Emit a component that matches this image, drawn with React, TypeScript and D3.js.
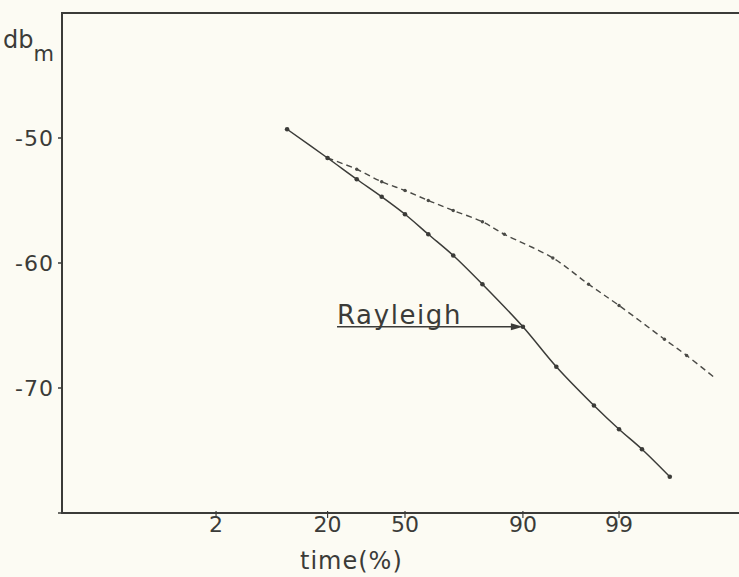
import * as d3 from "d3";
import React, { useEffect, useRef } from "react";

// time percentages (x) and levels in dBm (y)
const solidTime = [10, 20, 30, 40, 50, 60, 70, 80, 90, 95, 98, 99, 99.5, 99.8];
const solidLevel = [-49.3, -51.6, -53.3, -54.7, -56.1, -57.7, -59.4, -61.7, -65.1, -68.3, -71.4, -73.3, -74.9, -77.1];

const dashedTime = [20, 30, 40, 50, 60, 70, 80, 86, 94.6, 97.7, 99, 99.76, 99.89, 99.96];
const dashedLevel = [-51.6, -52.5, -53.5, -54.2, -55.0, -55.8, -56.7, -57.7, -59.6, -61.7, -63.4, -66.1, -67.4, -69.1];

const xTicks = [2, 20, 50, 90, 99];
const yTicks = [-50, -60, -70, -80];
const yTickLabels = ["-50", "-60", "-70", ""];

const rayleighArrow = { label: "Rayleigh", from: 23, to: 90, level: -65.1 };

const INK = "#3b3b38";
const PAPER = "#fcfbf3";
const FONT = "'DejaVu Sans', sans-serif";

// inverse normal CDF (Acklam), for the probability axis
const probit = (p: number) => {
	const a = [-39.69683028665376, 220.9460984245205, -275.9285104469687, 138.357751867269, -30.66479806614716, 2.506628277459239];
	const b = [-54.47609879822406, 161.5858368580409, -155.6989798598866, 66.80131188771972, -13.28068155288572];
	const c = [-0.007784894002430293, -0.3223964580411365, -2.400758277161838, -2.549732539343734, 4.374664141464968, 2.938163982698783];
	const d = [0.007784695709041462, 0.3224671290700398, 2.445134137142996, 3.754408661907416];
	const pl = 0.02425;
	if (p < pl) {
		const q = Math.sqrt(-2 * Math.log(p));
		return (((((c[0] * q + c[1]) * q + c[2]) * q + c[3]) * q + c[4]) * q + c[5]) / ((((d[0] * q + d[1]) * q + d[2]) * q + d[3]) * q + 1);
	}
	if (p > 1 - pl) {
		const q = Math.sqrt(-2 * Math.log(1 - p));
		return -(((((c[0] * q + c[1]) * q + c[2]) * q + c[3]) * q + c[4]) * q + c[5]) / ((((d[0] * q + d[1]) * q + d[2]) * q + d[3]) * q + 1);
	}
	const q = p - 0.5;
	const r = q * q;
	return ((((((a[0] * r + a[1]) * r + a[2]) * r + a[3]) * r + a[4]) * r + a[5]) * q) / (((((b[0] * r + b[1]) * r + b[2]) * r + b[3]) * r + b[4]) * r + 1);
};

const Chart = () => {
	const svgRef = useRef<SVGSVGElement>(null);

	useEffect(() => {
		if (!svgRef.current) return;
		const svg = d3.select(svgRef.current);
		svg.selectAll("*").remove();

		const width = 739;
		const height = 577;
		const left = 62;
		const top = 13;
		const bottom = 513;

		const z = d3.scaleLinear().domain([0, 1]).range([405, 497]);
		const x = (t: number) => z(probit(t / 100));
		const y = d3.scaleLinear().domain([-80, -40]).range([bottom, top]);

		svg.append("rect").attr("width", width).attr("height", height).attr("fill", PAPER);

		// frame (right side runs off the page)
		svg
			.append("path")
			.attr("d", `M${width},${top}H${left}V${bottom}H${width}`)
			.attr("fill", "none")
			.attr("stroke", INK)
			.attr("stroke-width", 2);

		// y ticks
		const yg = svg.append("g");
		yg.selectAll("line")
			.data(yTicks)
			.enter()
			.append("line")
			.attr("x1", left - 4)
			.attr("x2", left)
			.attr("y1", (d) => y(d))
			.attr("y2", (d) => y(d))
			.attr("stroke", INK)
			.attr("stroke-width", 1.5);
		yg.selectAll("text")
			.data(yTicks)
			.enter()
			.append("text")
			.attr("x", left - 8)
			.attr("y", (d) => y(d))
			.attr("dy", "0.36em")
			.attr("text-anchor", "end")
			.style("font-family", FONT)
			.style("font-size", "22px")
			.style("letter-spacing", "1px")
			.style("fill", INK)
			.text((d, i) => yTickLabels[i]);

		// x ticks
		const xg = svg.append("g");
		xg.selectAll("line")
			.data(xTicks)
			.enter()
			.append("line")
			.attr("x1", (d) => x(d))
			.attr("x2", (d) => x(d))
			.attr("y1", bottom - 2)
			.attr("y2", bottom + 5)
			.attr("stroke", INK)
			.attr("stroke-width", 1.2);
		xg.selectAll("text")
			.data(xTicks)
			.enter()
			.append("text")
			.attr("x", (d) => x(d))
			.attr("y", bottom + 19)
			.attr("text-anchor", "middle")
			.style("font-family", FONT)
			.style("font-size", "22px")
			.style("fill", INK)
			.text((d) => String(d));

		// axis titles
		const yTitle = svg
			.append("text")
			.attr("x", 3)
			.attr("y", 48)
			.style("font-family", FONT)
			.style("font-size", "24px")
			.style("fill", INK);
		yTitle.append("tspan").text("db");
		yTitle.append("tspan").attr("dy", 13).style("font-size", "21px").text("m");

		svg
			.append("text")
			.attr("x", 300)
			.attr("y", 569)
			.style("font-family", FONT)
			.style("font-size", "24px")
			.style("letter-spacing", "1px")
			.style("fill", INK)
			.text("time(%)");

		const line = d3
			.line<[number, number]>()
			.x((d) => x(d[0]))
			.y((d) => y(d[1]))
			.curve(d3.curveCatmullRom.alpha(0.5));

		const solid: [number, number][] = solidTime.map((t, i) => [t, solidLevel[i]]);
		const dashed: [number, number][] = dashedTime.map((t, i) => [t, dashedLevel[i]]);

		svg
			.append("path")
			.datum(dashed)
			.attr("fill", "none")
			.attr("stroke", "#4a4a46")
			.attr("stroke-width", 1.4)
			.attr("stroke-dasharray", "6,4")
			.attr("d", line);

		svg
			.append("g")
			.selectAll("circle")
			.data(dashed.slice(1, -1))
			.enter()
			.append("circle")
			.attr("cx", (d) => x(d[0]))
			.attr("cy", (d) => y(d[1]))
			.attr("r", 1.7)
			.attr("fill", "#4a4a46");

		svg
			.append("path")
			.datum(solid)
			.attr("fill", "none")
			.attr("stroke", INK)
			.attr("stroke-width", 1.5)
			.attr("d", line);

		svg
			.append("g")
			.selectAll("circle")
			.data(solid)
			.enter()
			.append("circle")
			.attr("cx", (d) => x(d[0]))
			.attr("cy", (d) => y(d[1]))
			.attr("r", 2.3)
			.attr("fill", INK);

		// Rayleigh arrow
		const ax0 = x(rayleighArrow.from);
		const ax1 = x(rayleighArrow.to);
		const ay = y(rayleighArrow.level);
		svg
			.append("line")
			.attr("x1", ax0)
			.attr("x2", ax1 - 6)
			.attr("y1", ay)
			.attr("y2", ay)
			.attr("stroke", INK)
			.attr("stroke-width", 1.5);
		svg
			.append("path")
			.attr("d", `M${ax1},${ay}L${ax1 - 12},${ay - 3.5}L${ax1 - 12},${ay + 3.5}Z`)
			.attr("fill", INK);
		svg
			.append("text")
			.attr("x", ax0)
			.attr("y", ay - 3)
			.style("font-family", FONT)
			.style("font-size", "26px")
			.style("letter-spacing", "1.6px")
			.style("fill", INK)
			.text(rayleighArrow.label);
	}, []);

	return <svg ref={svgRef} width={739} height={577} style={{ display: "block" }} />;
};

export default function App() {
	return (
		<div style={{ position: "absolute", left: 0, top: 0 }}>
			<Chart />
		</div>
	);
}
